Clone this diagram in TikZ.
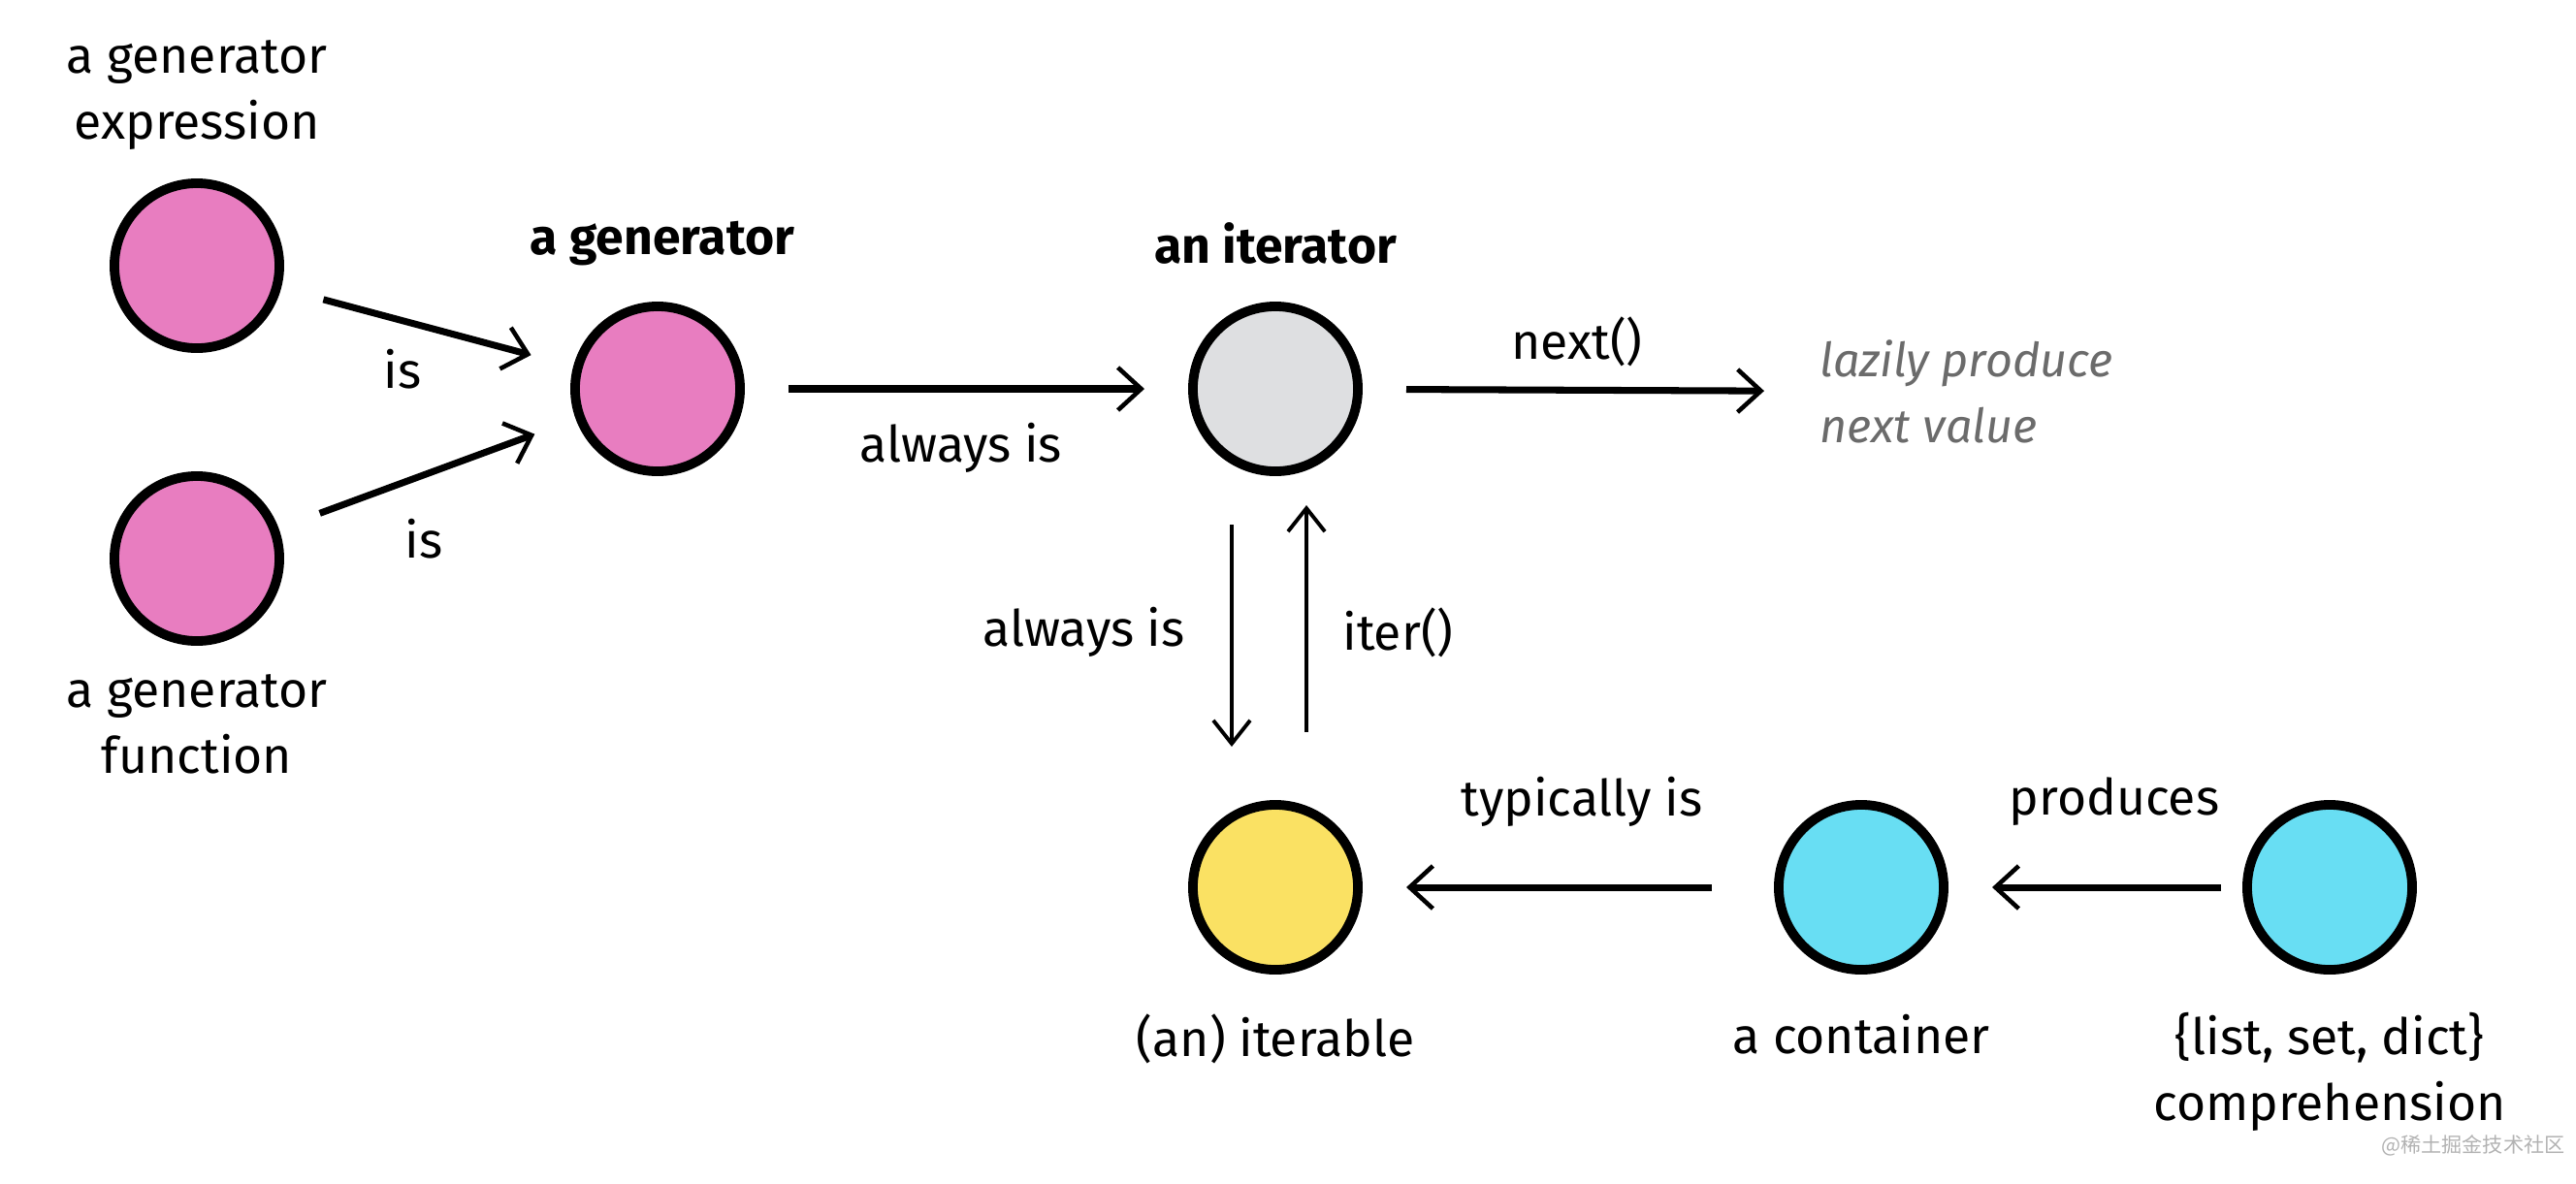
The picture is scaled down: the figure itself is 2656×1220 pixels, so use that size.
\documentclass[tikz,border=0pt]{standalone}
\usepackage{fontspec}
\setmainfont{Fira Sans}
\newfontfamily\cjk{Noto Sans CJK SC}
\usetikzlibrary{arrows.meta}
\definecolor{genpink}{HTML}{E87DC0}
\definecolor{itergray}{HTML}{DEDFE1}
\definecolor{iteryellow}{HTML}{FAE163}
\definecolor{contcyan}{HTML}{68DEF3}
\definecolor{notegray}{HTML}{6B6B6B}
\begin{document}
\begin{tikzpicture}[x=0.01cm, y=-0.01cm,
      font=\fontsize{14.7}{19.3}\selectfont,
      dot/.style = {shape=circle, draw=black, line width=2.8pt,
        minimum size=1.7cm, inner sep=0pt
      },
      label/.style = {align=center, anchor=center},
      heading/.style = {align=center, anchor=center, font=\fontsize{14.7}{19.3}\selectfont\bfseries},
      link/.style = {line width=2pt, -{Straight Barb[length=0.24cm, width=0.44cm, line width=1.3pt]},
        shorten <=0.45cm, shorten >=0.45cm
      },
      thinlink/.style = {line width=1.1pt, -{Straight Barb[length=0.24cm, width=0.38cm, line width=1.1pt]},
        shorten <=0.5cm, shorten >=0.55cm
      },
      texto/.style={anchor=center}
    ]
    \useasboundingbox (0,0) rectangle (2656,1220);

    % circles
    \node[dot, fill=genpink] (genexpr) at (203,274) {};
    \node[dot, fill=genpink] (genfunc) at (203,576) {};
    \node[dot, fill=genpink] (gen) at (678,401) {};
    \node[dot, fill=itergray] (iter) at (1315,401) {};
    \node[dot, fill=iteryellow] (iterable) at (1315,915) {};
    \node[dot, fill=contcyan] (container) at (1919,915) {};
    \node[dot, fill=contcyan] (compr) at (2402,915) {};

    % names
    \node[label] (genexprtxt) at (203,98) {a generator\\expression};
    \node[label] (genfunctxt) at (203,747) {a generator\\function};
    \node[heading] (gentxt) at (683,251) {a generator};
    \node[heading] (itertxt) at (1315,251) {an iterator};
    \node[label] (iterabletxt) at (1315,1071) {(an) iterable};
    \node[label] (containertxt) at (1919,1067) {a container};
    \node[label] (comprtxt) at (2402,1105) {\{list, set, dict\}\\comprehension};
    \node[anchor=west, align=left, text=notegray, font=\fontsize{13.8}{19.3}\selectfont\itshape]
      (lazy) at (1864,404) {lazily produce\\next value};

    % arrows
    \draw[link] (genexpr) -- (gen);
    \draw[link] (genfunc) -- (gen);
    \draw[link] (gen) -- (iter);
    \draw[link, shorten >=0.45cm] (iter) -- (lazy);
    \draw[thinlink] ([xshift=-0.45cm]iter.south) -- ([xshift=-0.45cm]iterable.north);
    \draw[thinlink, shorten <=0.7cm, shorten >=0.3cm] ([xshift=0.32cm]iterable.north) -- ([xshift=0.32cm]iter.south);
    \draw[link, shorten <=0.64cm] (container) -- (iterable);
    \draw[link, shorten <=0.22cm] (compr) -- (container);

    % arrow labels
    \node[texto] at (415,381) {is};
    \node[texto] at (437,556) {is};
    \node[texto] at (991,462) {always is};
    \node[texto] at (1626,352) {next()};
    \node[texto, anchor=east] at (1234,652) {always is};
    \node[texto, anchor=west] at (1372,652) {iter()};
    \node[texto] at (1631,827) {typically is};
    \node[texto] at (2180,827) {produces};

    % watermark
    \node[texto, text=black!30, font=\cjk\fontsize{6}{7}\selectfont] at (2550,1181) {@稀土掘金技术社区};
\end{tikzpicture}
\end{document}
